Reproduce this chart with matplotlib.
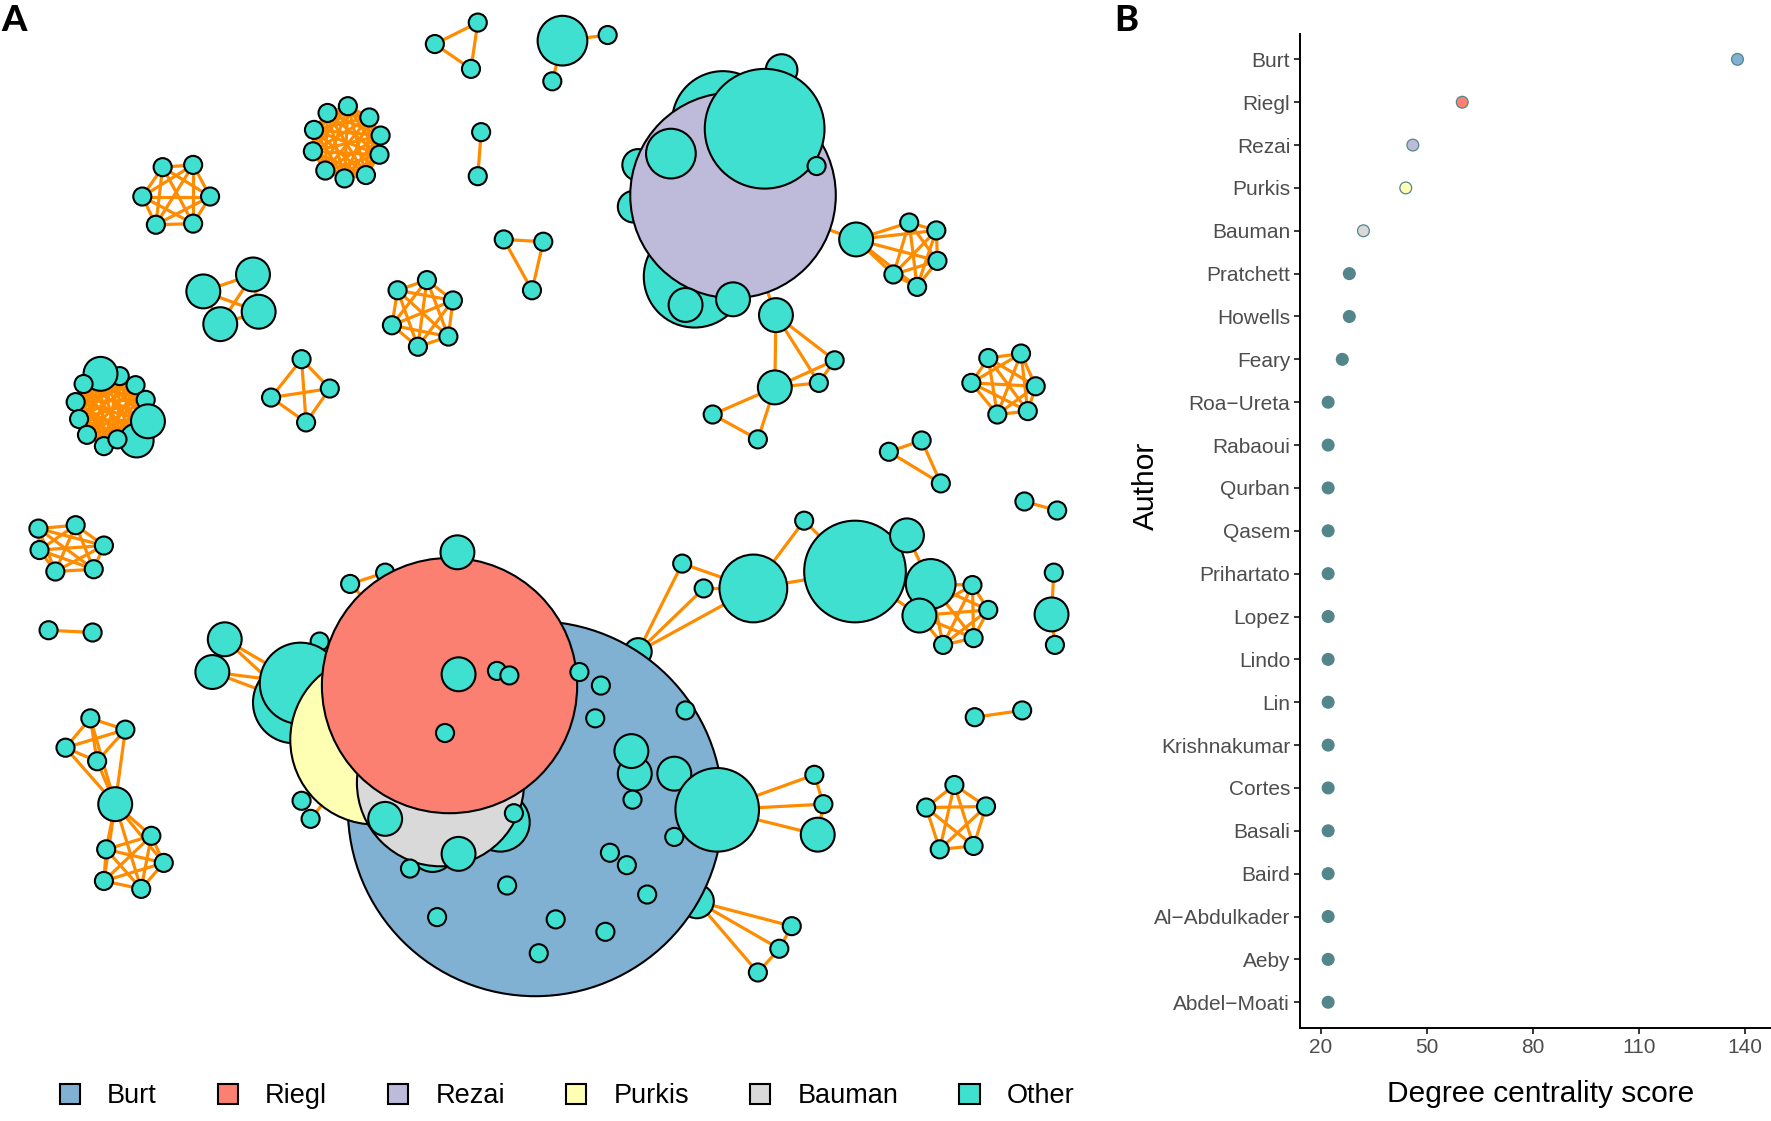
import matplotlib.pyplot as plt
from matplotlib.patches import Circle, Patch
from matplotlib.collections import PatchCollection, LineCollection
from itertools import combinations

plt.rcParams["font.family"] = ["Liberation Sans", "DejaVu Sans"]

# ---------------- panel B: degree centrality ----------------
authors = ["Burt", "Riegl", "Rezai", "Purkis", "Bauman", "Pratchett", "Howells",
           "Feary", "Roa\u2212Ureta", "Rabaoui", "Qurban", "Qasem", "Prihartato",
           "Lopez", "Lindo", "Lin", "Krishnakumar", "Cortes", "Basali", "Baird",
           "Al\u2212Abdulkader", "Aeby", "Abdel\u2212Moati"]
degree = [138, 60, 46, 44, 32, 28, 28, 26, 22, 22, 22, 22, 22,
          22, 22, 22, 22, 22, 22, 22, 22, 22, 22]
x_ticks = [20, 50, 80, 110, 140]

legend_names = ["Burt", "Riegl", "Rezai", "Purkis", "Bauman", "Other"]
group_colors = {"Burt": "#80B1D3", "Riegl": "#FB8072", "Rezai": "#BEBADA",
                "Purkis": "#FFFFB3", "Bauman": "#D9D9D9", "Other": "#40E0D0"}
other_dot = "#53868B"

# ---------------- panel A: co-authorship network ----------------
# node layout: (x, y, radius[, author]) in preview pixels
net_tri_a = [(385, 39, 8), (423, 20, 8), (417, 61, 8)]
net_star_a = [(498, 36, 22), (538, 31, 8), (489, 72, 8)]
net_ring10 = [(308, 94, 8), (290, 100, 8), (327, 104, 8), (278, 115, 8), (337, 120, 8),
              (277, 134, 8), (336, 137, 8), (288, 151, 8), (305, 158, 8), (324, 155, 8)]
net_pair_a = [(426, 117, 8), (423, 156, 8)]
net_hex_a = [(144, 148, 8), (171, 146, 8), (126, 174, 8), (186, 174, 8), (138, 199, 8), (171, 198, 8)]
net_quad_big = [(180, 258, 15), (224, 243, 15), (229, 276, 15), (195, 287, 15)]
net_hex_b = [(378, 248, 8), (352, 257, 8), (401, 266, 8), (347, 288, 8), (397, 298, 8), (370, 307, 8)]
net_tri_b = [(446, 212, 8), (481, 214, 8), (471, 257, 8)]
net_dense = [(106, 333, 8), (121, 390, 15), (89, 331, 15), (74, 340, 8), (120, 341, 8), (67, 356, 8),
             (129, 354, 8), (70, 371, 8), (77, 385, 8), (92, 395, 8), (104, 389, 8), (131, 373, 15)]
net_quad = [(267, 318, 8), (240, 352, 8), (292, 344, 8), (271, 374, 8)]
net_rezai = [(640, 108, 45), (615, 245, 45), (565, 146, 14), (561, 183, 14), (692, 62, 14),
             (649, 173, 91, "Rezai"), (677, 114, 53), (594, 136, 22), (723, 147, 8),
             (607, 270, 15), (649, 265, 15), (687, 279, 15), (739, 319, 8), (725, 339, 8),
             (686, 343, 15), (631, 367, 8), (671, 389, 8),
             (758, 212, 15), (805, 197, 8), (829, 204, 8), (830, 231, 8), (791, 243, 8), (812, 254, 8)]
rezai_links = ([(5, i) for i in [0, 1, 2, 3, 4, 6, 7, 8, 9, 10, 11, 17]]
               + [(11, 12), (11, 13), (11, 14), (14, 12), (14, 13), (12, 13), (14, 15), (14, 16), (15, 16)]
               + [(17 + a, 17 + b) for a, b in combinations(range(6), 2)])
net_hex_c = [(875, 317, 8), (904, 313, 8), (860, 339, 8), (917, 342, 8), (883, 367, 8), (910, 364, 8)]
net_tri_c = [(787, 400, 8), (816, 390, 8), (833, 428, 8)]
net_pair_b = [(907, 444, 8), (936, 452, 8)]
net_hex_d = [(34, 468, 8), (67, 465, 8), (35, 487, 8), (92, 483, 8), (49, 506, 8), (83, 504, 8)]
net_pair_c = [(43, 558, 8), (82, 560, 8)]
net_bowtie = [(80, 636, 8), (111, 646, 8), (58, 662, 8), (86, 674, 8), (102, 712, 15),
              (134, 740, 8), (94, 752, 8), (145, 764, 8), (92, 780, 8), (125, 787, 8)]
bowtie_links = ([(a, b) for a, b in combinations(range(5), 2)]
                + [(a, b) for a, b in combinations(range(4, 10), 2)])
net_line3 = [(933, 507, 8), (931, 544, 15), (934, 571, 8)]
net_pair_d = [(863, 635, 8), (905, 629, 8)]
net_penta = [(845, 695, 8), (820, 715, 8), (873, 714, 8), (832, 752, 8), (862, 749, 8)]
net_burt = [(565, 577, 12), (617, 798, 15), (474, 716, 166, "Burt"), (260, 622, 36), (266, 605, 36),
            (341, 507, 8), (332, 655, 75, "Purkis"), (383, 752, 20), (443, 728, 26),
            (390, 693, 74, "Bauman"), (398, 607, 113, "Riegl"),
            (405, 489, 15), (406, 597, 15), (440, 594, 8), (451, 598, 8), (394, 649, 8),
            (341, 725, 15), (406, 756, 15), (363, 769, 8), (455, 720, 8), (267, 709, 8),
            (275, 725, 8), (310, 517, 8), (199, 566, 15), (188, 595, 15),
            (513, 595, 8), (532, 607, 8), (527, 636, 8), (607, 629, 8), (562, 685, 15),
            (559, 665, 15), (560, 708, 8), (540, 755, 8), (555, 766, 8), (573, 792, 8),
            (492, 814, 8), (536, 825, 8), (477, 844, 8), (449, 784, 8), (387, 812, 8),
            (597, 685, 15), (597, 741, 8), (635, 717, 37), (721, 686, 8), (729, 712, 8),
            (724, 739, 15), (701, 820, 8), (690, 840, 8), (671, 861, 8),
            (604, 499, 8), (623, 521, 8), (667, 521, 30), (712, 461, 8), (757, 506, 45),
            (803, 474, 15), (824, 517, 22), (814, 545, 15), (861, 518, 8), (875, 540, 8),
            (862, 565, 8), (835, 571, 8)]
burt_links = ([(2, i) for i in [0, 1, 3, 4, 6, 7, 8, 9, 10, 42] + list(range(25, 40))]
              + [(10, i) for i in [5, 6, 9, 11, 12, 13, 14, 15, 22]]
              + [(9, 16), (9, 17), (9, 18), (9, 19), (6, 20), (6, 21), (6, 3), (6, 4), (5, 22)]
              + [(23, 3), (23, 4), (24, 3), (24, 4), (23, 24)]
              + [(42, 40), (42, 41), (42, 43), (42, 44), (42, 45), (43, 44), (44, 45)]
              + [(1, 46), (1, 47), (1, 48), (46, 47), (47, 48)]
              + [(0, 49), (0, 50), (0, 51), (49, 51), (50, 51), (51, 52), (51, 53), (52, 53)]
              + [(53, 54), (53, 55), (53, 56), (54, 55)]
              + [(a, b) for a, b in combinations([55, 56, 57, 58, 59, 60], 2)])
# small node tucked between the teal pair and Riegl
net_burt_hidden = [(283, 568, 8)]

components = [
    (net_tri_a, "all"), (net_star_a, [(0, 1), (0, 2)]), (net_ring10, "all"),
    (net_pair_a, "all"), (net_hex_a, "all"), (net_quad_big, "all"), (net_hex_b, "all"),
    (net_tri_b, "all"), (net_dense, "all"), (net_quad, "all"), (net_rezai, rezai_links),
    (net_hex_c, "all"), (net_tri_c, "all"), (net_pair_b, "all"), (net_hex_d, "all"),
    (net_pair_c, "all"), (net_bowtie, bowtie_links), (net_line3, [(0, 1), (1, 2)]),
    (net_pair_d, "all"), (net_penta, "all"), (net_burt_hidden, []), (net_burt, burt_links),
]

fig = plt.figure(figsize=(17.71, 11.21), dpi=100)

# panel A fills the canvas; 1 data unit = 1 preview pixel
ax_a = fig.add_axes([0, 0, 1, 1])
ax_a.set_xlim(0, 1568)
ax_a.set_ylim(1568 * 1121 / 1771, 0)
ax_a.axis("off")

circles, faces, segs = [], [], []
for nodes, links in components:
    if links == "all":
        links = list(combinations(range(len(nodes)), 2))
    for i, j in links:
        segs.append([(nodes[i][0], nodes[i][1]), (nodes[j][0], nodes[j][1])])
    for n in nodes:
        who = n[3] if len(n) > 3 else "Other"
        circles.append(Circle((n[0], n[1]), n[2]))
        faces.append(group_colors[who])

# the teal pair and the hidden node sit behind Purkis/Riegl: move hidden node before them
ax_a.add_collection(LineCollection(segs, colors="#FF8C00", linewidths=2.3, zorder=1))
ax_a.add_collection(PatchCollection(circles, facecolors=faces, edgecolors="black",
                                    linewidths=1.5, zorder=2))

handles = [Patch(facecolor=group_colors[g], edgecolor="black", linewidth=1.5) for g in legend_names]
fig.legend(handles, legend_names, ncol=6, loc="center left", bbox_to_anchor=(0.026, 0.022),
           frameon=False, fontsize=19.5, borderpad=0, handlelength=0.75, handleheight=0.75,
           handletextpad=1.0, columnspacing=2.25)

fig.text(0.008, 0.982, "A", fontsize=26, fontweight="black", family=["Lato", "DejaVu Sans"],
         ha="center", va="center")
fig.text(0.636, 0.982, "B", fontsize=26, fontweight="black", family=["Lato", "DejaVu Sans"],
         ha="center", va="center")

# panel B
ax_b = fig.add_axes([0.734, 0.083, 0.266, 0.887])
ax_b.patch.set_alpha(0)
ypos = list(range(len(authors), 0, -1))
dot_cols = [group_colors[a] if a in group_colors else other_dot for a in authors]
ax_b.scatter(degree, ypos, s=72, c=dot_cols, edgecolors=other_dot, linewidths=0.9, zorder=3)
ax_b.set_xlim(14, 147.5)
ax_b.set_ylim(0.4, len(authors) + 0.6)
ax_b.set_xticks(x_ticks)
ax_b.set_yticks(ypos)
ax_b.set_yticklabels(authors)
for s in ["top", "right"]:
    ax_b.spines[s].set_visible(False)
for s in ["left", "bottom"]:
    ax_b.spines[s].set_linewidth(1.4)
ax_b.tick_params(axis="both", direction="out", length=4, width=1.1, pad=3,
                 labelsize=15, labelcolor="#4D4D4D")
ax_b.set_xlabel("Degree centrality score", fontsize=21.5, va="center")
ax_b.xaxis.set_label_coords(0.512, -0.066)
ax_b.set_ylabel("Author", fontsize=21.5, va="center")
ax_b.yaxis.set_label_coords(-0.327, 0.545)

fig.savefig("out.png", dpi=100)
